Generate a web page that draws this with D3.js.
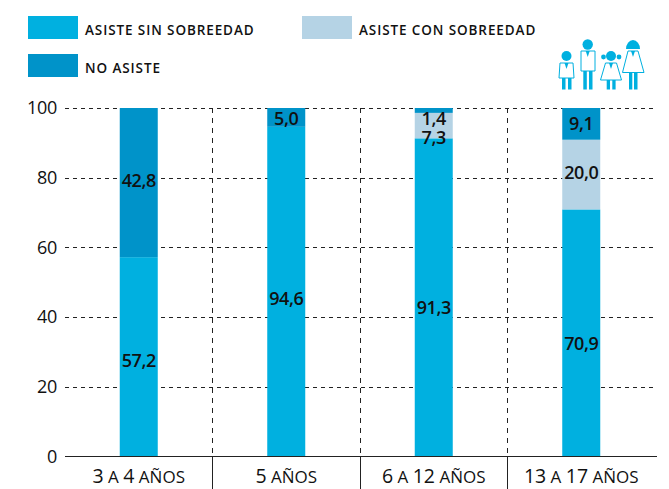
<!DOCTYPE html>
<html>
<head>
<meta charset="utf-8">
<script src="https://cdn.jsdelivr.net/npm/d3@7"></script>
<style>
  html, body { margin: 0; background: #fff; }
  text { font-family: "Open Sans", "Noto Sans", sans-serif; fill: #111; }
</style>
</head>
<body>
<div id="chart"></div>
<script>
const categories = ['3 a 4 años', '5 años', '6 a 12 años', '13 a 17 años'];
const sinSobreedad = [57.2, 94.6, 91.3, 70.9];
const conSobreedad = [0, 0, 7.3, 20.0];
const noAsiste = [42.8, 5.0, 1.4, 9.1];
const seriesKeys = ['sin', 'con', 'no'];
const seriesNames = ['Asiste sin sobreedad', 'Asiste con sobreedad', 'No asiste'];
const seriesColors = ['#00b0e0', '#b5d3e5', '#0093c9'];
const yTicks = [0, 20, 40, 60, 80, 100];

const width = 669, height = 489;
const svg = d3.select('#chart').append('svg')
  .attr('width', width)
  .attr('height', height)
  .style('display', 'block');

const x = d3.scaleBand().domain(categories).range([65, 655]);
const y = d3.scaleLinear().domain([0, 100]).range([456.5, 108]);
const color = d3.scaleOrdinal(seriesKeys, seriesColors);

const rows = categories.map((c, i) => ({
  category: c, sin: sinSobreedad[i], con: conSobreedad[i], no: noAsiste[i]
}));
const stacked = d3.stack().keys(seriesKeys)(rows);

// horizontal dashed grid, under the bars
svg.append('g')
  .call(d3.axisLeft(y).tickValues(yTicks.filter(d => d > 0)).tickSize(-(width - 65 - 12)).tickFormat(''))
  .attr('transform', 'translate(65,0)')
  .call(g => g.select('.domain').remove())
  .selectAll('line')
    .attr('stroke', '#222')
    .attr('shape-rendering', 'crispEdges')
    .attr('stroke-dasharray', '4 4');

// vertical separators: dashed in the plot, solid under the axis
const separators = categories.slice(1).map(c => x(c));
svg.append('g').selectAll('line').data(separators).join('line')
  .attr('x1', d => d).attr('x2', d => d)
  .attr('y1', y(100)).attr('y2', y(0))
  .attr('stroke', '#222')
  .attr('shape-rendering', 'crispEdges')
  .attr('stroke-dasharray', '5 5');
svg.append('g').selectAll('line').data(separators).join('line')
  .attr('x1', d => d).attr('x2', d => d)
  .attr('y1', y(0)).attr('y2', height)
  .attr('shape-rendering', 'crispEdges')
  .attr('stroke', '#222');

const barW = 38;
svg.append('g').selectAll('g').data(stacked).join('g')
    .attr('fill', d => color(d.key))
  .selectAll('rect').data(d => d).join('rect')
    .attr('x', d => x(d.data.category) + x.bandwidth() / 2 - barW / 2)
    .attr('width', barW)
    // 5 años only adds up to 99,6 in the source, the top segment still reaches 100
    .attr('y', (d, i, n) => d3.select(n[i].parentNode).datum().key === 'no' ? y(100) : y(d[1]))
    .attr('height', (d, i, n) => d3.select(n[i].parentNode).datum().key === 'no' ? y(d[0]) - y(100) : y(d[0]) - y(d[1]));

// value labels, nudged (px) the way the original places them by hand
const labelNudge = {
  sin: [4, 7, 10, 11],
  con: [0, 0, 12, -2],
  no: [-2, 0, 8, 0]
};
svg.append('g').selectAll('g').data(stacked).join('g')
  .selectAll('text')
  .data(d => d.map((p, i) => ({ key: d.key, p, i })).filter(o => o.p[1] - o.p[0] > 0))
  .join('text')
    .attr('x', o => x(o.p.data.category) + x.bandwidth() / 2)
    .attr('y', o => y((o.p[0] + o.p[1]) / 2) + labelNudge[o.key][o.i] + 6.5)
    .attr('text-anchor', 'middle')
    .attr('font-size', 18)
    .attr('font-weight', 600)
    .attr('letter-spacing', -0.4)
    .text(o => o.p.data[o.key].toFixed(1).replace('.', ','));

// axis line
svg.append('line')
  .attr('x1', 65).attr('x2', 657)
  .attr('y1', y(0)).attr('y2', y(0))
  .attr('stroke', '#222').attr('stroke-width', 1.2);

// y axis labels
svg.append('g')
  .attr('transform', 'translate(65,0)')
  .call(d3.axisLeft(y).tickValues(yTicks).tickSize(0).tickPadding(8))
  .call(g => g.select('.domain').remove())
  .selectAll('text')
    .attr('font-size', 18)
    .attr('font-family', '"Open Sans", sans-serif')
    .attr('letter-spacing', -0.3);

// category labels: lower case parts set as small caps
const catLabels = svg.append('g').selectAll('text').data(categories).join('text')
  .attr('x', d => x(d) + x.bandwidth() / 2)
  .attr('y', 483)
  .attr('text-anchor', 'middle');
catLabels.each(function (d) {
  const t = d3.select(this);
  d.split(/(\d+)/).filter(s => s).forEach(s => {
    const isNum = /\d/.test(s);
    t.append('tspan')
      .attr('font-size', isNum ? 19.5 : 17)
      .text(isNum ? s : s.toUpperCase());
  });
});

// legend
const legendPos = [[28, 16], [302, 16], [28, 54]];
const legend = svg.append('g').selectAll('g').data(seriesKeys).join('g')
  .attr('transform', (d, i) => `translate(${legendPos[i][0]},${legendPos[i][1]})`);
legend.append('rect')
  .attr('width', 50).attr('height', 23)
  .attr('fill', d => color(d));
legend.append('text')
  .attr('x', 57).attr('y', 19)
  .attr('font-size', 13.5)
  .attr('font-weight', 600)
  .attr('letter-spacing', 0.9)
  .text((d, i) => seriesNames[i].toUpperCase());

// little doctors icon
const icon = svg.append('g').attr('fill', '#00b0e0');
const coat = (pts) => icon.append('polygon')
  .attr('points', pts.join(' '))
  .attr('fill', '#fff').attr('stroke', '#00b0e0').attr('stroke-width', 1);
const leg = (x0, y0, y1, w) => icon.append('rect')
  .attr('x', x0).attr('y', y0).attr('width', w).attr('height', y1 - y0);
const head = (cx, cy, r) => icon.append('circle').attr('cx', cx).attr('cy', cy).attr('r', r);

head(566.5, 56, 5); coat(['560,63', '573,63', '574,78', '559,78']);
leg(562, 78, 89.5, 3.5); leg(568, 78, 89.5, 3.5);
head(587.7, 44.5, 5.2); coat(['581,51', '595,51', '595,71', '581,71']);
leg(583.3, 71, 89.5, 3.5); leg(589, 71, 89.5, 3.5);
head(611, 56, 5); head(603.5, 57, 2.4); head(619, 57, 2.4);
coat(['605.5,63', '616.5,63', '621.5,80', '600.5,80']);
leg(606.7, 80, 89.5, 3.3); leg(612.3, 80, 89.5, 3.3);
icon.append('path').attr('d', 'M626,49 A7,9 0 0 1 640,49 Z');
coat(['628,51', '638,51', '644,72.5', '622.5,72.5']);
leg(629, 73, 89.5, 3.3); leg(634, 73, 89.5, 3.5);
// shirt fronts
[[566.5, 63], [587.7, 51], [611, 63], [633, 51]].forEach(([cx, cy]) => {
  icon.append('path').attr('d', `M${cx - 2},${cy} L${cx},${cy + 6} L${cx + 2},${cy} Z`);
});
</script>
</body>
</html>
